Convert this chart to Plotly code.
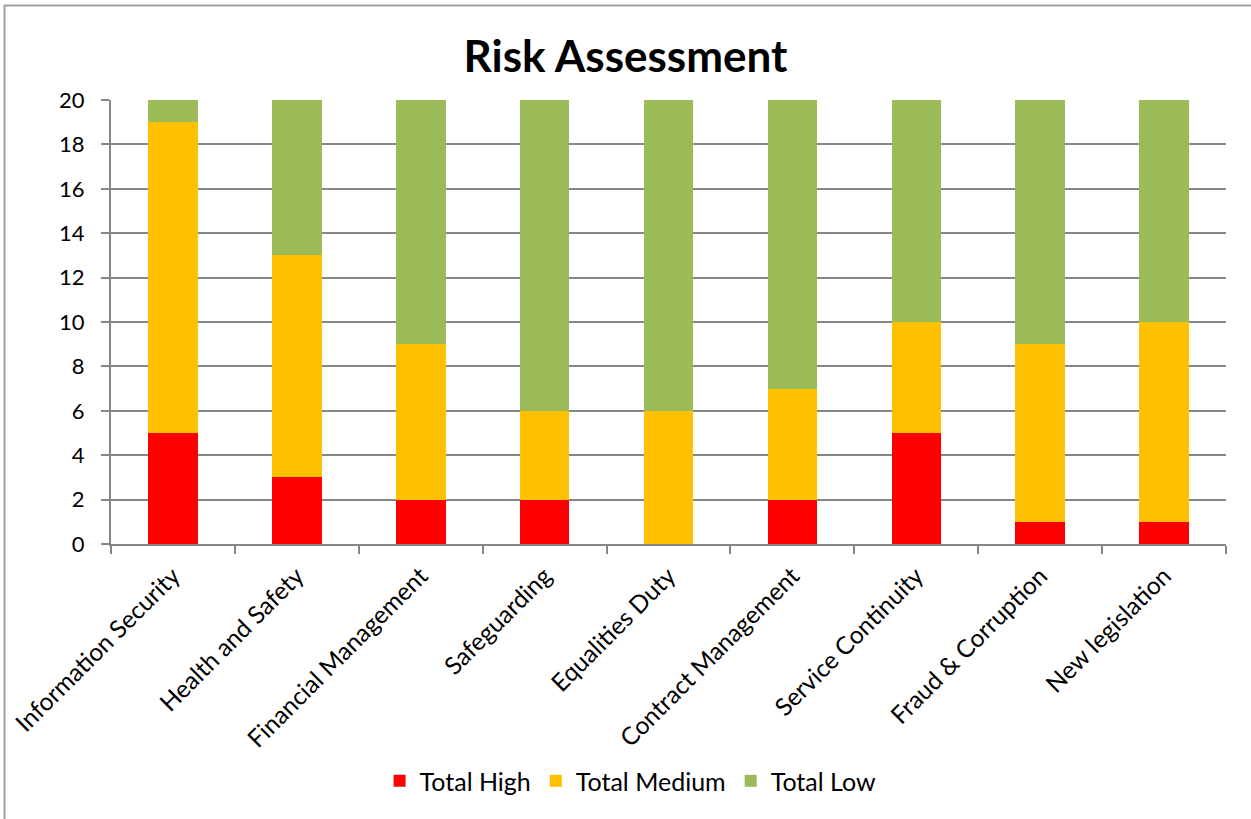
import plotly.graph_objects as go

categories = ["Information Security", "Health and Safety", "Financial Management",
              "Safeguarding", "Equalities Duty", "Contract Management",
              "Service Continuity", "Fraud & Corruption", "New legislation"]
total_high = [5, 3, 2, 2, 0, 2, 5, 1, 1]
total_medium = [14, 10, 7, 4, 6, 5, 5, 8, 9]
total_low = [1, 7, 11, 14, 14, 13, 10, 11, 10]

FONT = "Lato"
GRID = "#868686"

fig = go.Figure()
for name, vals, col in [("Total High", total_high, "#FF0000"),
                        ("Total Medium", total_medium, "#FFC000"),
                        ("Total Low", total_low, "#9BBB59")]:
    fig.add_trace(go.Bar(x=categories, y=vals, name=name, marker_color=col,
                         marker_line_width=0, width=0.4))

fig.update_layout(
    width=1251, height=819,
    barmode="stack",
    paper_bgcolor="white", plot_bgcolor="white",
    margin=dict(l=111, r=25, t=100, b=275, autoexpand=False),
    font=dict(family=FONT, size=22, color="black"),
    title=dict(text="<b>Risk Assessment</b>", x=0.5, xanchor="center",
               y=1 - 57 / 819, yanchor="middle",
               font=dict(size=44, family=FONT, color="black")),
    showlegend=True,
    legend=dict(orientation="h", x=0.466, xanchor="center", y=-0.534, yanchor="middle",
                font=dict(size=25, family=FONT), traceorder="normal", itemwidth=30),
    xaxis=dict(showline=True, linecolor=GRID, linewidth=2, ticks="outside",
               tickson="boundaries", ticklen=8, tickwidth=2, tickcolor=GRID,
               tickangle=-45, showgrid=False, tickfont=dict(size=24.5),
               ticklabelstandoff=6),
    yaxis=dict(range=[0, 20], dtick=2, showline=True, linecolor=GRID, linewidth=2,
               ticks="outside", ticklen=8, tickwidth=2, tickcolor=GRID,
               showgrid=True, gridcolor=GRID, gridwidth=2, zeroline=False,
               tickfont=dict(size=22), ticklabelstandoff=12),
    shapes=[dict(type="rect", xref="paper", yref="paper",
                 x0=(4.5 - 111) / 1115, x1=1.3, y0=-0.8, y1=(544 - 5.5) / 444,
                 line=dict(color="#A0A0A0", width=2), fillcolor="rgba(0,0,0,0)",
                 layer="below")],
)

fig.write_html("out.html")
